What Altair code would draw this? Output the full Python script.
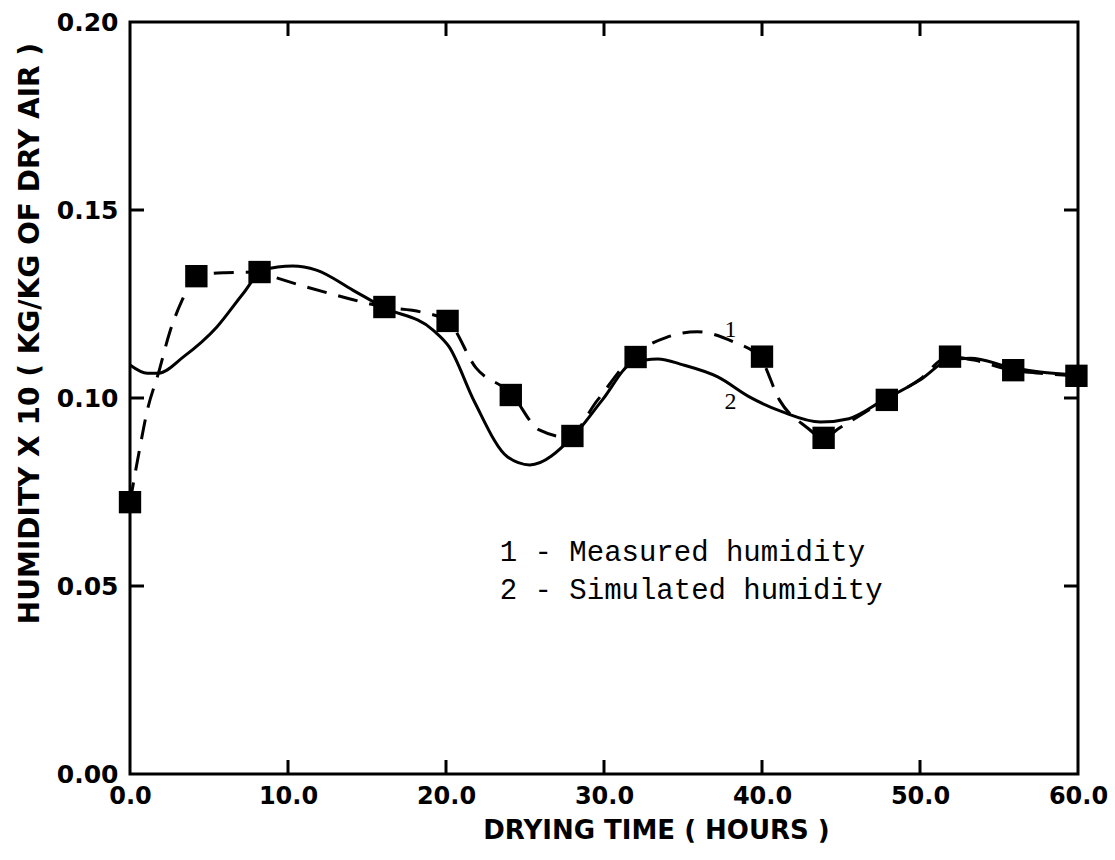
import altair as alt
import pandas as pd

# Measured humidity (squares)
meas_t = [0.0, 4.2, 8.2, 16.1, 20.1, 24.1, 28.0, 32.0, 40.0, 43.9, 47.9, 51.9, 55.9, 59.9]
meas_h = [0.0723, 0.1324, 0.1335, 0.1242, 0.1205, 0.1008, 0.0899, 0.1109, 0.1110, 0.0894, 0.0995, 0.1110, 0.1074, 0.1059]

# Curve 1 (dashed, measured) readings
dash_t = [0.0, 0.6, 1.1, 1.8, 2.5, 3.3, 4.2, 6.0, 8.2, 9.1, 11.2, 13.7, 16.1, 18.4, 20.1,
          21.9, 24.1, 25.9, 27.7, 29.6, 31.8, 34.0, 35.9, 38.2, 39.9, 41.1, 42.8, 43.9,
          44.9, 47.8, 50.0, 51.8, 53.5, 55.8, 57.8, 60.0]
dash_h = [0.0723, 0.0862, 0.0968, 0.1066, 0.1173, 0.1260, 0.1327, 0.1333, 0.1335, 0.1322, 0.1295,
          0.1266, 0.1242, 0.1229, 0.1205, 0.1080, 0.1013, 0.0915, 0.0896, 0.0995, 0.1110, 0.1162,
          0.1176, 0.1149, 0.1106, 0.0995, 0.0923, 0.0894, 0.0920, 0.0995, 0.1050, 0.1110, 0.1100,
          0.1074, 0.1065, 0.1059]

# Curve 2 (solid, simulated) readings
sim_t = [0.0, 1.1, 1.8, 3.4, 5.5, 7.2, 8.4, 10.3, 11.8, 14.1, 16.0, 19.2, 20.2, 21.8, 23.9,
         25.3, 28.0, 29.9, 31.8, 33.4, 35.0, 37.2, 39.2, 41.3, 43.7, 45.5, 47.7, 50.0, 51.8,
         53.2, 55.7, 57.6, 60.0]
sim_h = [0.1088, 0.1066, 0.1066, 0.1110, 0.1189, 0.1280, 0.1340, 0.1351, 0.1340, 0.1287, 0.1242,
         0.1180, 0.1136, 0.0990, 0.0843, 0.0822, 0.0896, 0.0995, 0.1093, 0.1104, 0.1088, 0.1056,
         0.1003, 0.0963, 0.0936, 0.0945, 0.0995, 0.1048, 0.1100, 0.1106, 0.1082, 0.1069, 0.1061]

x_ticks = [0, 10, 20, 30, 40, 50, 60]
y_ticks = [0.0, 0.05, 0.10, 0.15, 0.20]
inner_x_ticks = [10, 20, 30, 40, 50]
inner_y_ticks = [0.05, 0.10, 0.15]

labels_txt = ["1", "2"]
labels_t = [38.0, 38.0]
labels_h = [0.1181, 0.0989]

legend_txt = ["1 - Measured humidity", "2 - Simulated humidity"]
legend_t = [23.4, 23.4]
legend_h = [0.0590, 0.0489]

W, H = 948, 752
SANS = "DejaVu Sans"

meas_df = pd.DataFrame({"t": meas_t, "h": meas_h})
dash_df = pd.DataFrame({"t": dash_t, "h": dash_h})
sim_df = pd.DataFrame({"t": sim_t, "h": sim_h})
xt_df = pd.DataFrame({"t": inner_x_ticks})
yt_df = pd.DataFrame({"h": inner_y_ticks})
lab_df = pd.DataFrame({"t": labels_t, "h": labels_h, "s": labels_txt})
leg_df = pd.DataFrame({"t": legend_t, "h": legend_h, "s": legend_txt})

xs = alt.Scale(domain=[0, 60], nice=False, zero=False)
ys = alt.Scale(domain=[0, 0.2], nice=False, zero=False)

x_axis = alt.Axis(values=x_ticks, format=".1f", ticks=False, domain=False, grid=False,
                  labelFont=SANS, labelFontWeight="bold", labelFontSize=24, labelColor="black",
                  labelPadding=10, labelFlush=False, labelOverlap=False,
                  title="DRYING TIME ( HOURS )", titleFont=SANS, titleFontWeight="bold",
                  titleFontSize=26, titleColor="black", titleX=526, titleY=56,
                  titleAlign="center", titleBaseline="middle")
y_axis = alt.Axis(values=y_ticks, format=".2f", ticks=False, domain=False, grid=False,
                  labelFont=SANS, labelFontWeight="bold", labelFontSize=25, labelColor="black",
                  labelPadding=12, labelFlush=False, labelOverlap=False,
                  title="HUMIDITY X 10 ( KG/KG OF DRY AIR )", titleFont=SANS, titleFontWeight="bold",
                  titleFontSize=28, titleColor="black", titleX=-100, titleY=311,
                  titleAlign="center", titleBaseline="middle", titleAngle=-90)

X = alt.X("t:Q", scale=xs, axis=x_axis)
Y = alt.Y("h:Q", scale=ys, axis=y_axis)

dashed = alt.Chart(dash_df).mark_line(interpolate="monotone", color="black", strokeWidth=3,
                                      strokeDash=[20, 12]).encode(x=X, y=Y)
solid = alt.Chart(sim_df).mark_line(interpolate="monotone", color="black", strokeWidth=3).encode(x=X, y=Y)
squares = alt.Chart(meas_df).mark_point(shape="square", filled=True, size=500, color="black",
                                         opacity=1).encode(x=X, y=Y)

tick_style = dict(color="black", strokeWidth=3)
bottom_ticks = alt.Chart(xt_df).mark_rule(**tick_style).encode(
    x=alt.X("t:Q", scale=xs), y=alt.value(H), y2=alt.value(H - 14))
top_ticks = alt.Chart(xt_df).mark_rule(**tick_style).encode(
    x=alt.X("t:Q", scale=xs), y=alt.value(0), y2=alt.value(14))
left_ticks = alt.Chart(yt_df).mark_rule(**tick_style).encode(
    y=alt.Y("h:Q", scale=ys), x=alt.value(0), x2=alt.value(14))
right_ticks = alt.Chart(yt_df).mark_rule(**tick_style).encode(
    y=alt.Y("h:Q", scale=ys), x=alt.value(W), x2=alt.value(W - 14))

curve_labels = alt.Chart(lab_df).mark_text(font="Liberation Serif", fontSize=24, color="black",
                                           align="center", baseline="middle").encode(
    x=alt.X("t:Q", scale=xs), y=alt.Y("h:Q", scale=ys), text="s:N")
legend = alt.Chart(leg_df).mark_text(font="Liberation Mono", fontSize=29, color="black",
                                     align="left", baseline="middle").encode(
    x=alt.X("t:Q", scale=xs), y=alt.Y("h:Q", scale=ys), text="s:N")

chart = alt.layer(dashed, solid, squares, bottom_ticks, top_ticks, left_ticks, right_ticks,
                  curve_labels, legend).properties(
    width=W, height=H,
    autosize=alt.AutoSizeParams(type="none"),
    padding={"left": 130, "top": 22, "right": 37, "bottom": 86},
    background="white",
).configure_view(stroke="black", strokeWidth=3)

chart.save("out.html", embed_options={"renderer": "svg", "actions": False})
